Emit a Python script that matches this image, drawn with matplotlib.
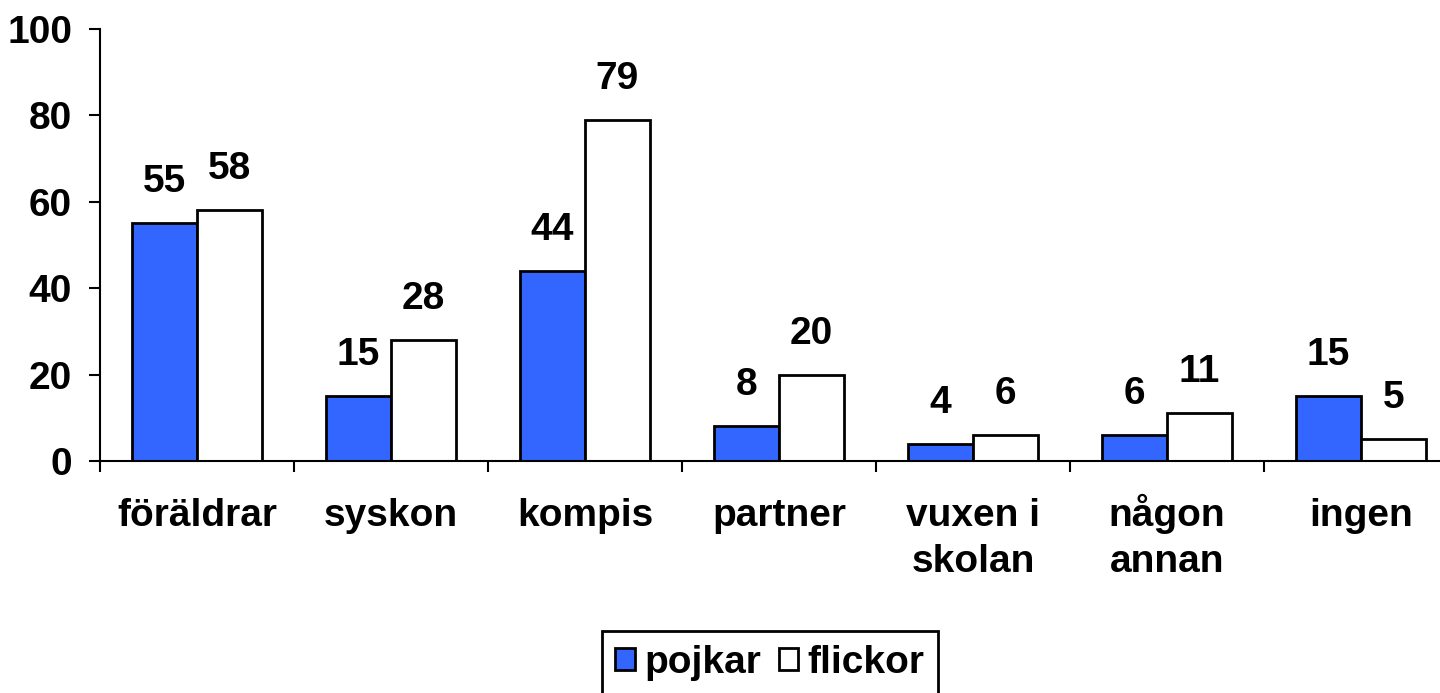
import matplotlib
matplotlib.use("Agg")
import matplotlib.pyplot as plt
import matplotlib.transforms as mtransforms
import numpy as np

categories = ["föräldrar", "syskon", "kompis", "partner", "vuxen i\nskolan", "någon\nannan", "ingen"]
pojkar = [55, 15, 44, 8, 4, 6, 15]
flickor = [58, 28, 79, 20, 6, 11, 5]
series_names = ["pojkar", "flickor"]
yticks = [0, 20, 40, 60, 80, 100]

plt.rcParams['font.family'] = ['Liberation Sans', 'DejaVu Sans']
plt.rcParams['font.weight'] = 'bold'
FS = 28

W, H = 1440, 693
fig = plt.figure(figsize=(W / 100, H / 100), dpi=100)
ax = fig.add_axes([100 / W, (H - 461) / H, 1358 / W, 432 / H])

x = np.arange(len(categories)) + 0.5
bw = 0.335
b1 = ax.bar(x - bw / 2, pojkar, bw, color="#3366FF", edgecolor="black", linewidth=2, label=series_names[0])
b2 = ax.bar(x + bw / 2, flickor, bw, color="white", edgecolor="black", linewidth=2, label=series_names[1])

for bars, vals in ((b1, pojkar), (b2, flickor)):
    for r, v in zip(bars, vals):
        ax.annotate(str(v), (r.get_x() + r.get_width() / 2, v), xytext=(0, 41),
                    textcoords="offset pixels", ha="center", va="center",
                    fontsize=FS, fontweight="bold")

ax.set_xlim(0, len(categories))
ax.set_ylim(0, 100)
ax.set_yticks(yticks)
ax.set_yticklabels([str(t) for t in yticks], fontsize=FS, fontweight="bold")
ax.set_xticks(np.arange(len(categories) + 1))
ax.set_xticklabels([])
ax.tick_params(axis="x", which="major", length=8, width=1.5, direction="out")
ax.tick_params(axis="y", length=8, width=1.5, direction="out", pad=12)

# category labels: each line placed on its own baseline
trans = mtransforms.blended_transform_factory(ax.transData, ax.transAxes)
for xi, lab in zip(x, categories):
    for k, line in enumerate(lab.split("\n")):
        ax.text(xi, -(65 + 46 * k) / 432, line, transform=trans, ha="center", va="baseline",
                fontsize=FS, fontweight="bold")

for s in ["top", "right"]:
    ax.spines[s].set_visible(False)
for s in ["left", "bottom"]:
    ax.spines[s].set_linewidth(1.5)

leg = fig.legend(handles=[b1, b2], loc="upper center", bbox_to_anchor=(770 / W, 1 - 631 / H),
                 ncol=2, prop={"weight": "bold", "size": FS}, frameon=True, fancybox=False,
                 framealpha=1, handlelength=0.5, handleheight=0.5, handletextpad=0.25,
                 columnspacing=0.45, borderpad=0.35, borderaxespad=0)
leg.get_frame().set_edgecolor("black")
leg.get_frame().set_linewidth(2)

fig.savefig("out.png", dpi=100)
